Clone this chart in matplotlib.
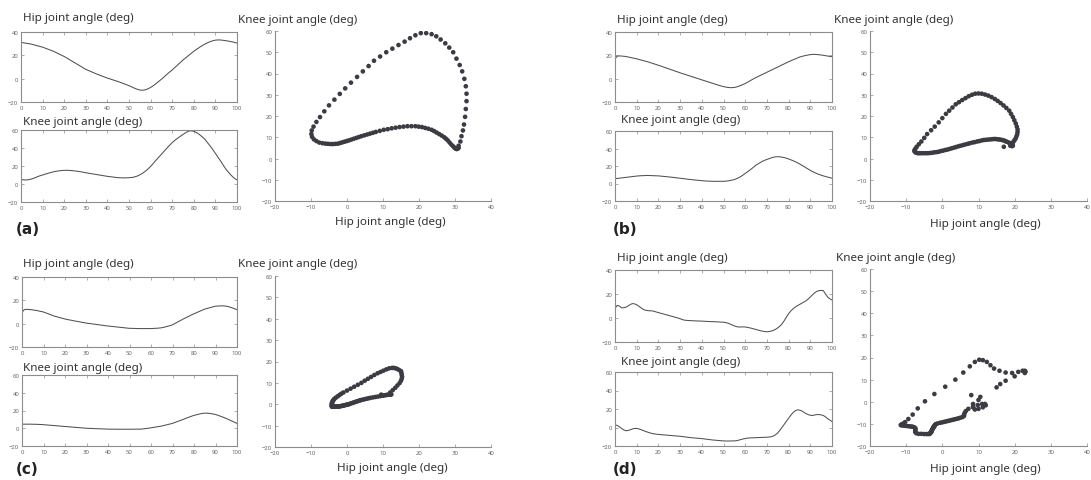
import numpy as np
import matplotlib.pyplot as plt

plt.rcParams['font.family'] = ['Noto Sans', 'DejaVu Sans']

# gait cycle in percent (0..100), one sample per percent
gait = list(range(0, 101))

# (a) hip and knee angle over the gait cycle
hip_a = [31.0, 30.8, 30.5, 30.2, 29.9, 29.5, 29.0, 28.5, 28.0, 27.5,
         27.0, 26.3, 25.6, 24.9, 24.2, 23.5, 22.6, 21.7, 20.8, 19.9,
         19.0, 17.9, 16.8, 15.7, 14.6, 13.5, 12.4, 11.3, 10.2, 9.1,
         8.0, 7.2, 6.4, 5.6, 4.8, 4.0, 3.3, 2.6, 1.9, 1.2,
         0.5, -0.1, -0.7, -1.3, -1.9, -2.5, -3.2, -3.9, -4.6, -5.3,
         -6.0, -6.8, -7.7, -8.5, -9.2, -9.7, -9.9, -9.8, -9.3, -8.5,
         -7.5, -6.3, -5.0, -3.5, -2.0, -0.5, 1.1, 2.8, 4.4, 6.0,
         7.5, 9.2, 10.9, 12.6, 14.3, 16.0, 17.5, 19.0, 20.5, 22.0,
         23.5, 24.8, 26.0, 27.3, 28.4, 29.5, 30.4, 31.3, 32.0, 32.6,
         33.0, 33.2, 33.2, 33.0, 32.8, 32.5, 32.2, 31.8, 31.5, 31.0,
         30.5]
knee_a = [5.0, 4.7, 4.5, 4.6, 5.0, 5.7, 6.5, 7.5, 8.5, 9.3,
          10.0, 10.8, 11.5, 12.2, 12.9, 13.5, 14.0, 14.4, 14.8, 15.0,
          15.2, 15.2, 15.2, 15.0, 14.8, 14.5, 14.2, 13.8, 13.5, 13.0,
          12.5, 12.1, 11.7, 11.3, 10.9, 10.5, 10.1, 9.7, 9.3, 8.9,
          8.5, 8.2, 7.9, 7.6, 7.3, 7.0, 6.9, 6.8, 6.8, 6.9,
          7.0, 7.2, 7.5, 8.2, 9.0, 10.2, 11.5, 13.2, 15.0, 17.2,
          19.5, 22.2, 25.0, 27.7, 30.4, 33.0, 35.7, 38.4, 41.0, 43.5,
          46.0, 48.0, 50.0, 51.7, 53.4, 55.0, 56.6, 58.0, 59.0, 59.0,
          58.5, 57.5, 56.0, 54.2, 52.2, 50.0, 47.0, 44.0, 41.0, 37.5,
          34.0, 30.5, 27.0, 23.3, 19.6, 16.0, 13.2, 10.5, 8.0, 6.0,
          4.5]

# (b)
hip_b = [17.0, 19.3, 19.5, 19.4, 19.2, 19.0, 18.6, 18.2, 17.8, 17.4,
         17.0, 16.5, 16.0, 15.5, 15.0, 14.5, 13.9, 13.3, 12.7, 12.1,
         11.5, 10.9, 10.2, 9.6, 8.9, 8.3, 7.6, 7.0, 6.3, 5.7,
         5.0, 4.4, 3.8, 3.2, 2.6, 2.0, 1.4, 0.8, 0.2, -0.4,
         -1.0, -1.6, -2.2, -2.8, -3.4, -4.0, -4.6, -5.2, -5.8, -6.3,
         -6.8, -7.2, -7.5, -7.7, -7.7, -7.5, -7.1, -6.5, -5.8, -5.0,
         -4.2, -3.1, -2.1, -1.0, 0.0, 1.0, 1.9, 2.8, 3.7, 4.6,
         5.5, 6.4, 7.3, 8.2, 9.1, 10.0, 10.9, 11.8, 12.7, 13.6,
         14.5, 15.3, 16.1, 16.9, 17.7, 18.5, 19.0, 19.5, 19.9, 20.3,
         20.6, 20.8, 20.8, 20.7, 20.5, 20.3, 20.0, 19.7, 19.4, 19.1,
         18.8]
knee_b = [5.5, 5.8, 6.1, 6.4, 6.7, 7.0, 7.3, 7.6, 7.9, 8.2,
          8.5, 8.7, 8.9, 9.0, 9.1, 9.2, 9.1, 9.0, 8.9, 8.8,
          8.7, 8.5, 8.2, 8.0, 7.7, 7.5, 7.2, 6.9, 6.6, 6.3,
          6.0, 5.7, 5.4, 5.1, 4.8, 4.5, 4.2, 4.0, 3.7, 3.5,
          3.2, 3.0, 2.9, 2.7, 2.6, 2.5, 2.5, 2.5, 2.5, 2.5,
          2.5, 2.7, 3.0, 3.4, 3.9, 4.5, 5.5, 6.7, 8.0, 9.7,
          11.5, 13.3, 15.0, 17.0, 19.0, 21.0, 22.5, 24.0, 25.5, 26.5,
          27.5, 28.4, 29.3, 30.0, 30.5, 30.6, 30.5, 30.1, 29.6, 28.9,
          28.0, 27.1, 26.1, 25.0, 23.8, 22.5, 21.0, 19.5, 18.0, 16.5,
          15.0, 13.7, 12.5, 11.4, 10.4, 9.5, 8.7, 8.0, 7.3, 6.7,
          6.0]

# (c)
hip_c = [9.5, 12.0, 12.3, 12.2, 12.0, 11.8, 11.5, 11.2, 10.8, 10.4,
         10.0, 9.3, 8.6, 7.9, 7.2, 6.5, 6.0, 5.5, 5.0, 4.5,
         4.0, 3.6, 3.2, 2.9, 2.5, 2.2, 1.8, 1.5, 1.1, 0.8,
         0.5, 0.2, 0.0, -0.3, -0.5, -0.8, -1.0, -1.3, -1.5, -1.8,
         -2.0, -2.2, -2.4, -2.6, -2.8, -3.0, -3.2, -3.4, -3.6, -3.8,
         -4.0, -4.0, -4.1, -4.1, -4.2, -4.2, -4.2, -4.2, -4.2, -4.2,
         -4.2, -4.1, -4.0, -3.9, -3.7, -3.5, -3.1, -2.6, -2.1, -1.6,
         -1.0, 0.0, 1.0, 2.0, 3.0, 4.0, 4.9, 5.8, 6.7, 7.6,
         8.5, 9.3, 10.1, 10.9, 11.7, 12.5, 13.0, 13.5, 14.0, 14.5,
         15.0, 15.1, 15.2, 15.3, 15.2, 15.0, 14.6, 14.0, 13.4, 12.7,
         12.0]
knee_c = [4.5, 4.6, 4.6, 4.6, 4.6, 4.5, 4.5, 4.4, 4.3, 4.2,
          4.0, 3.8, 3.6, 3.4, 3.2, 3.0, 2.8, 2.6, 2.4, 2.2,
          2.0, 1.8, 1.6, 1.4, 1.2, 1.0, 0.8, 0.6, 0.4, 0.2,
          0.0, -0.1, -0.2, -0.3, -0.4, -0.5, -0.6, -0.7, -0.8, -0.9,
          -1.0, -1.0, -1.0, -1.1, -1.1, -1.1, -1.1, -1.1, -1.1, -1.1,
          -1.1, -1.1, -1.1, -1.0, -1.0, -1.0, -0.8, -0.5, -0.2, 0.1,
          0.5, 0.9, 1.3, 1.7, 2.1, 2.5, 3.1, 3.7, 4.3, 4.9,
          5.5, 6.4, 7.3, 8.2, 9.1, 10.0, 11.0, 11.9, 12.8, 13.7,
          14.5, 15.1, 15.7, 16.3, 16.8, 17.0, 17.0, 16.8, 16.5, 16.0,
          15.5, 14.7, 13.8, 12.9, 12.0, 11.0, 9.9, 8.8, 7.7, 6.6,
          5.5]

# (d)
hip_d = [8.0, 10.5, 10.0, 8.5, 8.5, 9.0, 10.0, 11.2, 12.0, 11.8,
         11.0, 9.8, 8.5, 7.2, 6.5, 6.2, 6.0, 6.0, 5.6, 5.0,
         4.5, 4.0, 3.5, 3.0, 2.5, 2.0, 1.5, 1.0, 0.5, 0.0,
         -0.6, -1.3, -1.8, -2.0, -2.1, -2.2, -2.3, -2.4, -2.5, -2.5,
         -2.6, -2.7, -2.8, -2.9, -3.0, -3.0, -3.1, -3.2, -3.3, -3.4,
         -3.5, -3.8, -4.3, -5.0, -5.8, -6.6, -7.2, -7.5, -7.5, -7.4,
         -7.5, -7.8, -8.2, -8.6, -9.1, -9.6, -10.1, -10.6, -11.0, -11.3,
         -11.5, -11.3, -10.9, -10.3, -9.4, -8.2, -6.8, -4.8, -2.2, 0.8,
         3.6, 5.8, 7.6, 9.0, 10.2, 11.2, 12.3, 13.3, 14.3, 15.8,
         17.5, 19.3, 21.0, 22.2, 22.8, 23.0, 22.8, 20.0, 17.5, 16.0,
         15.0]
knee_d = [3.0, 2.2, 0.8, -1.0, -2.5, -3.5, -3.2, -2.5, -1.6, -1.0,
          -1.0, -1.5, -2.3, -3.2, -4.2, -5.0, -5.8, -6.4, -6.9, -7.2,
          -7.5, -7.7, -7.9, -8.1, -8.3, -8.5, -8.7, -8.9, -9.1, -9.3,
          -9.5, -9.8, -10.1, -10.4, -10.7, -11.0, -11.2, -11.4, -11.6, -11.8,
          -12.0, -12.3, -12.6, -12.9, -13.2, -13.5, -13.7, -13.9, -14.1, -14.3,
          -14.5, -14.6, -14.6, -14.6, -14.5, -14.5, -14.2, -13.7, -13.0, -12.4,
          -11.9, -11.5, -11.3, -11.2, -11.1, -11.0, -10.9, -10.8, -10.7, -10.6,
          -10.5, -10.3, -9.9, -9.2, -7.8, -5.8, -3.0, 0.2, 3.5, 6.8,
          10.0, 13.2, 16.0, 18.0, 19.0, 18.8, 18.0, 16.5, 15.0, 14.0,
          13.2, 13.0, 13.5, 14.0, 14.0, 13.6, 13.0, 11.5, 9.5, 8.0,
          6.5]

W, H = 1091, 481
txt_col = '#333333'
tick_col = '#666666'
spine_col = '#8c8c8c'


# convert a pixel box (left, top, right, bottom) into a figure rect
def px_rect(l, t, r, b):
    return [l / W, 1 - b / H, (r - l) / W, (b - t) / H]


# put a text at pixel position (left aligned, vertical center)
def px_text(fig, x, y, s, **kw):
    fig.text(x / W, 1 - y / H, s, ha='left', va='center', **kw)


# small time series box like the matlab subplots
def ts_axes(fig, box, data, ylim, yticks):
    ax = fig.add_axes(px_rect(*box))
    ax.plot(gait, data, color='#505050', lw=0.75)
    ax.set_xlim(0, 100)
    ax.set_ylim(*ylim)
    ax.set_xticks(range(0, 101, 10))
    ax.set_yticks(yticks)
    ax.tick_params(direction='in', length=2, width=0.5, labelsize=4.3,
                   colors=spine_col, labelcolor=tick_col, pad=2,
                   top=True, right=True)
    for s in ax.spines.values():
        s.set_color(spine_col)
        s.set_linewidth(0.8)
    return ax


# knee vs hip cyclogram
def phase_axes(fig, box, hip, knee):
    ax = fig.add_axes(px_rect(*box))
    ax.scatter(hip, knee, s=11, color='#3b3b44', edgecolors='none')
    ax.set_xlim(-20, 40)
    ax.set_ylim(-20, 60)
    ax.set_xticks(range(-20, 41, 10))
    ax.set_yticks(range(-20, 61, 10))
    ax.spines['top'].set_visible(False)
    ax.spines['right'].set_visible(False)
    for s in ['left', 'bottom']:
        ax.spines[s].set_color(spine_col)
        ax.spines[s].set_linewidth(0.8)
    ax.tick_params(direction='in', length=2, width=0.5, labelsize=4.3,
                   colors=spine_col, labelcolor=tick_col, pad=2)
    return ax


def draw_panel(fig, letter, hip, knee, hip_box, knee_box, ph_box,
               hip_title, knee_title, ph_title, ph_xlabel, letter_pos):
    ts_axes(fig, hip_box, hip, (-20, 40), [-20, 0, 20, 40])
    ts_axes(fig, knee_box, knee, (-20, 60), [-20, 0, 20, 40, 60])
    phase_axes(fig, ph_box, hip, knee)

    px_text(fig, hip_title[0], hip_title[1], 'Hip joint angle (deg)',
            fontsize=8.4, color=txt_col)
    px_text(fig, knee_title[0], knee_title[1], 'Knee joint angle (deg)',
            fontsize=8.4, color=txt_col)
    px_text(fig, ph_title[0], ph_title[1], 'Knee joint angle (deg)',
            fontsize=8.4, color=txt_col)
    fig.text(ph_xlabel[0] / W, 1 - ph_xlabel[1] / H, 'Hip joint angle (deg)',
             ha='center', va='center', fontsize=8.4, color=txt_col)
    px_text(fig, letter_pos[0], letter_pos[1], letter, family='DejaVu Sans',
            fontsize=11, fontweight='bold', color='#222222')


fig = plt.figure(figsize=(W / 100, H / 100), dpi=100)

draw_panel(fig, '(a)', hip_a, knee_a,
           (21, 33, 237, 103), (21, 131, 237, 203), (275, 32, 491, 202),
           (23, 19), (23, 122), (238, 20), (390, 223), (16, 230))
draw_panel(fig, '(b)', hip_b, knee_b,
           (615, 33, 832, 103), (615, 132, 832, 202), (870, 32, 1087, 202),
           (617, 20), (621, 121), (834, 20), (985, 224), (613, 230))
draw_panel(fig, '(c)', hip_c, knee_c,
           (22, 278, 237, 348), (22, 376, 237, 447), (275, 277, 491, 448),
           (23, 265), (23, 368), (238, 265), (392, 469), (16, 470))
draw_panel(fig, '(d)', hip_d, knee_d,
           (615, 271, 832, 343), (615, 373, 832, 447), (870, 270, 1087, 447),
           (617, 258), (621, 362), (836, 259), (985, 470), (613, 470))

fig.savefig('out.png', dpi=100, facecolor='white')
